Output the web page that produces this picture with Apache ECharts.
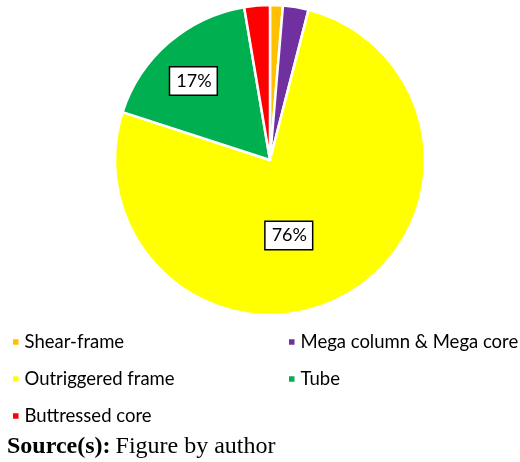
<!DOCTYPE html>
<html>
<head>
<meta charset="utf-8">
<script src="https://cdn.jsdelivr.net/npm/echarts@6/dist/echarts.min.js"></script>
<style>
  html, body { margin: 0; padding: 0; background: #fff; }
  #chart { width: 520px; height: 462px; }
</style>
</head>
<body>
<div id="chart"></div>
<script>
// Structural systems of the surveyed tall buildings (number of buildings)
const categories = ['Shear-frame', 'Mega column & Mega core', 'Outriggered frame', 'Tube', 'Buttressed core'];
const counts = [1, 2, 57, 13, 2];
const colors = ['#FFC000', '#7030A0', '#FFFF00', '#00B050', '#FF0000'];
// Slices that carry a percentage tag
const labelled = ['Outriggered frame', 'Tube'];
const labelNudges = { 'Outriggered frame': [-20, 5], 'Tube': [-24, -18] };

const legendLeft = ['Shear-frame', 'Outriggered frame', 'Buttressed core'];
const legendRight = ['Mega column & Mega core', 'Tube'];

const chart = echarts.init(document.getElementById('chart'), null, { renderer: 'canvas' });

const legendText = { fontFamily: 'Lato', fontSize: 18.5, color: '#000', lineHeight: 20 };

chart.setOption({
  animation: false,
  color: colors,
  title: {
    left: 7,
    top: 435,
    padding: 0,
    text: '{b|Source(s):} {r|Figure by author}',
    textStyle: {
      fontWeight: 'normal',
      rich: {
        b: { fontFamily: 'Liberation Serif', fontWeight: 'bold', fontSize: 24, color: '#000' },
        r: { fontFamily: 'Liberation Serif', fontWeight: 'normal', fontSize: 24, color: '#000' }
      }
    }
  },
  legend: [
    {
      data: legendLeft, orient: 'vertical', left: 11, top: 332, padding: 0,
      icon: 'rect', itemWidth: 7.5, itemHeight: 7.5, itemGap: 17,
      textStyle: legendText, selectedMode: false
    },
    {
      data: legendRight, orient: 'vertical', left: 287, top: 332, padding: 0,
      icon: 'rect', itemWidth: 7.5, itemHeight: 7.5, itemGap: 17,
      textStyle: legendText, selectedMode: false
    }
  ],
  series: [{
    type: 'pie',
    center: [270, 160],
    radius: [0, 155],
    startAngle: 90,
    clockwise: true,
    avoidLabelOverlap: false,
    itemStyle: { borderColor: '#fff', borderWidth: 2.5 },
    label: { show: false },
    labelLine: { show: false },
    emphasis: { disabled: true },
    data: categories.map((name, i) => {
      const item = { name: name, value: counts[i] };
      if (labelled.includes(name)) {
        item.label = {
          show: true,
          position: 'inside',
          offset: labelNudges[name],
          formatter: p => Math.round(p.percent) + '%',
          fontFamily: 'Lato',
          fontSize: 18,
          color: '#000',
          backgroundColor: '#fff',
          borderColor: '#000',
          borderWidth: 1.5,
          padding: [5, 5, 4, 6]
        };
      }
      return item;
    })
  }]
});
</script>
</body>
</html>
